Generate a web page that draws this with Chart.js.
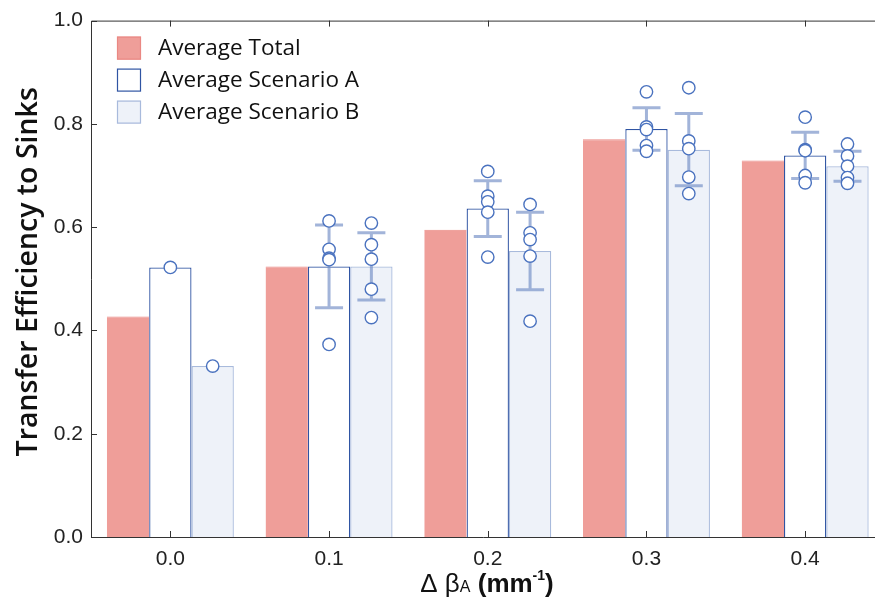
<!DOCTYPE html>
<html>
<head>
<meta charset="utf-8">
<script src="https://cdn.jsdelivr.net/npm/chart.js@4.4.0/dist/chart.umd.min.js"></script>
<style>
    body { margin: 0; background: #fff; }
    canvas { display: block; }
</style>
</head>
<body>
<canvas id="sinkChart" width="875" height="603"></canvas>
<script>
// values
const deltaBeta = [0.0, 0.1, 0.2, 0.3, 0.4];
const avgTotal = [0.427, 0.524, 0.595, 0.770, 0.729];
const avgScenarioA = [0.522, 0.524, 0.636, 0.790, 0.739];
const avgScenarioB = [0.331, 0.524, 0.554, 0.750, 0.718];
const errScenarioA = [0, 0.080, 0.054, 0.041, 0.045];
const errScenarioB = [0, 0.065, 0.075, 0.070, 0.029];
const runsScenarioA = [
    [0.522],
    [0.612, 0.557, 0.540, 0.537, 0.373],
    [0.708, 0.660, 0.649, 0.629, 0.542],
    [0.862, 0.794, 0.789, 0.758, 0.747],
    [0.813, 0.750, 0.748, 0.700, 0.686]
];
const runsScenarioB = [
    [0.331],
    [0.608, 0.566, 0.538, 0.480, 0.425],
    [0.644, 0.589, 0.576, 0.544, 0.418],
    [0.870, 0.767, 0.752, 0.697, 0.665],
    [0.761, 0.738, 0.718, 0.696, 0.685]
];
const yTicks = [0, 0.2, 0.4, 0.6, 0.8, 1.0];

const toPoints = (vals) => vals.map((v, i) => ({ x: deltaBeta[i], y: v }));

// error bars + individual runs on top of the A/B bars
const runsPlugin = {
    id: 'runs',
    afterDatasetsDraw(chart) {
        const ctx = chart.ctx;
        const yScale = chart.scales.y;
        const sets = [
            { idx: 1, err: errScenarioA, runs: runsScenarioA, mean: avgScenarioA },
            { idx: 2, err: errScenarioB, runs: runsScenarioB, mean: avgScenarioB }
        ];
        ctx.save();
        sets.forEach(s => {
            const meta = chart.getDatasetMeta(s.idx);
            meta.data.forEach((bar, j) => {
                const x = bar.x;
                if (s.err[j] > 0) {
                    const yHi = yScale.getPixelForValue(s.mean[j] + s.err[j]);
                    const yLo = yScale.getPixelForValue(s.mean[j] - s.err[j]);
                    ctx.strokeStyle = 'rgba(112, 140, 196, 0.65)';
                    ctx.lineWidth = 3;
                    ctx.beginPath();
                    ctx.moveTo(x, yHi); ctx.lineTo(x, yLo);
                    ctx.moveTo(x - 14, yHi); ctx.lineTo(x + 14, yHi);
                    ctx.moveTo(x - 14, yLo); ctx.lineTo(x + 14, yLo);
                    ctx.stroke();
                }
                s.runs[j].forEach(v => {
                    const y = yScale.getPixelForValue(v);
                    ctx.beginPath();
                    ctx.arc(x, y, 6.2, 0, Math.PI * 2);
                    ctx.fillStyle = '#fff';
                    ctx.fill();
                    ctx.strokeStyle = '#4a72bf';
                    ctx.lineWidth = 1.4;
                    ctx.stroke();
                });
            });
        });
        ctx.restore();
    }
};

// frame, inward ticks, legend and axis titles
const decorPlugin = {
    id: 'decor',
    afterDraw(chart) {
        const ctx = chart.ctx;
        const area = chart.chartArea;
        const xs = chart.scales.x;
        const ys = chart.scales.y;
        ctx.save();

        ctx.strokeStyle = '#333';
        ctx.lineWidth = 1;
        ctx.beginPath();
        ctx.moveTo(area.right, area.top + 0.5);
        ctx.lineTo(area.left + 0.5, area.top + 0.5);
        ctx.lineTo(area.left + 0.5, area.bottom + 0.5);
        ctx.lineTo(area.right, area.bottom + 0.5);
        ctx.stroke();

        ctx.beginPath();
        xs.ticks.forEach(t => {
            const px = Math.round(xs.getPixelForValue(t.value)) + 0.5;
            ctx.moveTo(px, area.bottom); ctx.lineTo(px, area.bottom - 6);
            ctx.moveTo(px, area.top); ctx.lineTo(px, area.top + 6);
        });
        ys.ticks.forEach(t => {
            const py = Math.round(ys.getPixelForValue(t.value)) + 0.5;
            ctx.moveTo(area.left, py); ctx.lineTo(area.left + 6, py);
        });
        ctx.stroke();

        // legend
        chart.data.datasets.forEach((ds, i) => {
            const bx = area.left + 26;
            const by = area.top + 16 + i * 32;
            ctx.fillStyle = ds.backgroundColor;
            ctx.fillRect(bx, by, 24, 23);
            ctx.strokeStyle = ds.borderColor;
            ctx.lineWidth = 1.2;
            ctx.strokeRect(bx + 0.5, by + 0.5, 23, 22);
            ctx.fillStyle = '#111';
            ctx.font = '22.5px "Open Sans"';
            ctx.textAlign = 'left';
            ctx.textBaseline = 'middle';
            ctx.fillText(ds.label, bx + 41, by + 12);
        });

        // y title
        ctx.fillStyle = '#111';
        ctx.save();
        ctx.translate(29, (area.top + area.bottom) / 2 - 7);
        ctx.rotate(-Math.PI / 2);
        ctx.font = '600 28.5px "Open Sans"';
        ctx.textAlign = 'center';
        ctx.textBaseline = 'middle';
        ctx.fillText('Transfer Efficiency to Sinks', 0, 0);
        ctx.restore();

        // x title: Δ β_A (mm^-1)
        const parts = [
            { t: 'Δ β', font: '26px "Liberation Sans"', dy: 0 },
            { t: 'A', font: '16px "Liberation Sans"', dy: 0 },
            { t: ' (mm', font: 'bold 26px "Liberation Sans"', dy: 0 },
            { t: '-1', font: 'bold 14px "Liberation Sans"', dy: -12 },
            { t: ')', font: 'bold 26px "Liberation Sans"', dy: 0 }
        ];
        let total = 0;
        parts.forEach(p => { ctx.font = p.font; p.w = ctx.measureText(p.t).width; total += p.w; });
        let cx = 487 - total / 2;
        ctx.textAlign = 'left';
        ctx.textBaseline = 'alphabetic';
        parts.forEach(p => {
            ctx.font = p.font;
            ctx.fillText(p.t, cx, 592 + p.dy);
            cx += p.w;
        });

        ctx.restore();
    }
};

const ctx = document.getElementById('sinkChart').getContext('2d');
new Chart(ctx, {
    type: 'bar',
    data: {
        datasets: [
            {
                label: 'Average Total',
                data: toPoints(avgTotal),
                backgroundColor: '#ef9e99',
                borderColor: '#ea8883',
                borderWidth: { top: 1 }
            },
            {
                label: 'Average Scenario A',
                data: toPoints(avgScenarioA),
                backgroundColor: '#ffffff',
                borderColor: '#2f54a3',
                borderWidth: 1.3
            },
            {
                label: 'Average Scenario B',
                data: toPoints(avgScenarioB),
                backgroundColor: '#eef2f9',
                borderColor: '#a8badc',
                borderWidth: 1.3
            }
        ]
    },
    options: {
        responsive: false,
        animation: false,
        devicePixelRatio: 1,
        categoryPercentage: 0.8,
        barPercentage: 1.0,
        layout: { padding: { top: 20, right: 0, left: 0, bottom: 0 } },
        plugins: {
            legend: { display: false },
            tooltip: { enabled: false }
        },
        scales: {
            x: {
                type: 'linear',
                offset: false,
                min: -0.05,
                max: 0.444,
                afterBuildTicks: (scale) => { scale.ticks = deltaBeta.map(v => ({ value: v })); },
                afterFit: (scale) => { scale.height = 66; },
                grid: { display: false, drawTicks: false },
                border: { display: false },
                ticks: {
                    color: '#222',
                    padding: 10,
                    font: { family: '"Liberation Sans"', size: 21 },
                    callback: (value) => Number(value).toFixed(1)
                }
            },
            y: {
                min: 0,
                max: 1,
                afterBuildTicks: (scale) => { scale.ticks = yTicks.map(v => ({ value: v })); },
                afterFit: (scale) => { scale.width = 91; },
                grid: { display: false, drawTicks: false },
                border: { display: false },
                ticks: {
                    color: '#222',
                    padding: 8,
                    font: { family: '"Liberation Sans"', size: 21 },
                    callback: (value) => Number(value).toFixed(1)
                }
            }
        }
    },
    plugins: [runsPlugin, decorPlugin]
});
</script>
</body>
</html>
